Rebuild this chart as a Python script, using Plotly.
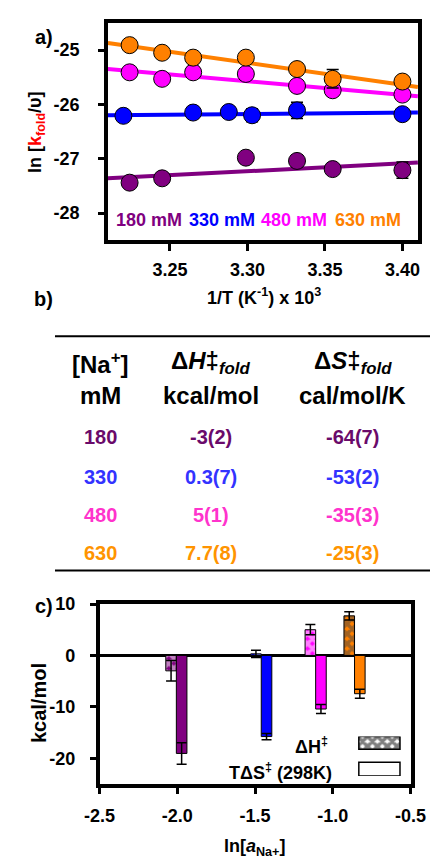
import plotly.graph_objects as go

W, H = 446, 861
FONT = "Liberation Sans, Arial, sans-serif"

# ---------------- Panel a data ----------------
inv_T_630 = [3.224, 3.245, 3.265, 3.299, 3.332, 3.355, 3.400]
lnk_630 = [-24.91, -25.05, -25.14, -25.14, -25.35, -25.53, -25.58]
err_630 = [0.05, 0.05, 0.05, 0.08, 0.05, 0.17, 0.05]

inv_T_480 = [3.224, 3.245, 3.265, 3.299, 3.332, 3.355, 3.400]
lnk_480 = [-25.41, -25.53, -25.41, -25.44, -25.66, -25.74, -25.82]
err_480 = [0.05, 0.05, 0.05, 0.05, 0.05, 0.10, 0.08]

inv_T_330 = [3.220, 3.265, 3.288, 3.303, 3.332, 3.400]
lnk_330 = [-26.21, -26.15, -26.14, -26.20, -26.11, -26.18]
err_330 = [0.05, 0.05, 0.08, 0.12, 0.15, 0.05]

inv_T_180 = [3.224, 3.245, 3.299, 3.332, 3.355, 3.400]
lnk_180 = [-27.44, -27.36, -26.98, -27.04, -27.19, -27.21]
err_180 = [0.05, 0.05, 0.05, 0.05, 0.05, 0.15]

fit_x = [3.21, 3.41]
fit_630 = [-24.87, -25.68]
fit_480 = [-25.35, -25.85]
fit_330 = [-26.20, -26.15]
fit_180 = [-27.36, -27.07]

conc_labels = ["180 mM", "330 mM", "480 mM", "630 mM"]
series_colors = ["#800080", "#0000FF", "#FF00FF", "#FF8000"]
table_colors = ["#6A0A6A", "#3333FF", "#FF33CC", "#FF9400"]

a_xticks = [3.25, 3.30, 3.35, 3.40]
a_yticks = [-28, -27, -26, -25]

# ---------------- Panel b data ----------------
na_conc = ["180", "330", "480", "630"]
dH_text = ["-3(2)", "0.3(7)", "5(1)", "7.7(8)"]
dS_text = ["-64(7)", "-53(2)", "-35(3)", "-25(3)"]

# ---------------- Panel c data ----------------
ln_a_na = [-2.006, -1.46, -1.11, -0.86]
dH_val = [-3, 0.3, 5, 7.7]
dH_err = [2, 0.7, 1, 0.8]
TdS_val = [-19.07, -15.79, -10.43, -7.45]
TdS_err = [2.09, 0.60, 0.89, 0.89]
c_xticks = [-2.5, -2.0, -1.5, -1.0, -0.5]
c_yticks = [-20, -10, 0, 10]


def px(x):
    return x / W


def py(y):
    return 1 - y / H


fig = go.Figure()

# fit lines then points (panel a)
for fy, col in zip([fit_180, fit_330, fit_480, fit_630], series_colors):
    fig.add_trace(go.Scatter(x=fit_x, y=fy, mode="lines",
                             line=dict(color=col, width=4),
                             xaxis="x", yaxis="y", hoverinfo="skip"))
for xs, ys, es, col in zip([inv_T_180, inv_T_330, inv_T_480, inv_T_630],
                           [lnk_180, lnk_330, lnk_480, lnk_630],
                           [err_180, err_330, err_480, err_630],
                           series_colors):
    fig.add_trace(go.Scatter(
        x=xs, y=ys, mode="markers",
        marker=dict(size=17, color=col, line=dict(color="black", width=1)),
        error_y=dict(type="data", array=es, color="black", thickness=1.5, width=6),
        xaxis="x", yaxis="y"))

# bars (panel c)
BAR_W = 0.068
HATCH = dict(shape="x", fgcolor="black", size=7, solidity=0.75, fillmode="overlay")
fig.add_trace(go.Bar(
    x=ln_a_na, y=dH_val, width=BAR_W, offset=-BAR_W,
    marker=dict(color=series_colors, line=dict(color="black", width=1),
                pattern=HATCH),
    error_y=dict(type="data", array=dH_err, color="black", thickness=1.5, width=5),
    xaxis="x2", yaxis="y2"))
fig.add_trace(go.Bar(
    x=ln_a_na, y=TdS_val, width=BAR_W, offset=0,
    marker=dict(color=series_colors, line=dict(color="black", width=1)),
    error_y=dict(type="data", array=TdS_err, color="black", thickness=1.5, width=5),
    xaxis="x2", yaxis="y2"))

# legend keys for panel c (decorative swatches on their own tiny axes)
fig.add_trace(go.Bar(
    y=[33.5], x=[1], width=[13], orientation="h", base=0,
    marker=dict(color="white", line=dict(color="black", width=1.5), pattern=HATCH),
    xaxis="x3", yaxis="y3", hoverinfo="skip"))
fig.add_trace(go.Bar(
    y=[7], x=[1], width=[14], orientation="h", base=0,
    marker=dict(color="white", line=dict(color="black", width=1.5)),
    xaxis="x3", yaxis="y3", hoverinfo="skip"))

axis_common = dict(showline=True, linewidth=3.5, linecolor="black", mirror=True,
                   showgrid=False, ticks="outside", tickwidth=3, tickcolor="black",
                   tickfont=dict(family=FONT, size=18, color="black", weight="bold"))

fig.update_layout(
    width=W, height=H, margin=dict(l=0, r=0, t=0, b=0),
    paper_bgcolor="white", plot_bgcolor="white", showlegend=False,
    barmode="overlay",
    xaxis=dict(domain=[px(99), px(433)], range=[3.21, 3.41],
               tickvals=a_xticks, ticktext=[f"{v:.2f}" for v in a_xticks],
               ticklen=7, ticklabelstandoff=3, anchor="y", **axis_common),
    yaxis=dict(domain=[py(233), py(13)], range=[-28.5, -24.5],
               tickvals=a_yticks, ticktext=[f"{v:d}" for v in a_yticks],
               ticklen=6, ticklabelstandoff=15, anchor="x", zeroline=False, **axis_common),
    xaxis2=dict(domain=[px(90), px(425)], range=[-2.5, -0.5],
                tickvals=c_xticks, ticktext=[f"{v:.1f}" for v in c_xticks],
                ticklen=6, ticklabelstandoff=7, anchor="y2", zeroline=False, **axis_common),
    yaxis2=dict(domain=[py(783), py(601)], range=[-25, 10],
                tickvals=c_yticks, ticktext=[f"{v:d}" for v in c_yticks],
                ticklen=6, ticklabelstandoff=11, anchor="x2",
                zeroline=True, zerolinecolor="black", zerolinewidth=3, **axis_common),
    xaxis3=dict(domain=[px(368), px(415)], range=[-0.03, 1.03], visible=False,
                anchor="y3", fixedrange=True),
    yaxis3=dict(domain=[py(775), py(735)], range=[0, 40], visible=False,
                anchor="x3", fixedrange=True),
)

ann = []


def add_text(text, x, y, size, color="black", xanchor="center", angle=0):
    ann.append(dict(text=text, x=px(x), y=py(y), xref="paper", yref="paper",
                    xanchor=xanchor, yanchor="middle", showarrow=False,
                    textangle=angle,
                    font=dict(family=FONT, size=size, color=color)))


# panel a texts
add_text("<b>a)</b>", 30, 27, 20)
add_text("<b>ln [<span style='color:#FF0000'>k<sub>fold</sub></span>/υ]</b>", 22, 123, 18, angle=-90)
add_text("<b>1/T (K<sup>-1</sup>) x 10<sup>3</sup></b>", 267, 290, 18)
for lab, col, xc in zip(conc_labels, series_colors, [143, 222, 300, 379]):
    add_text(f"<b>{lab}</b>", xc, 212, 18, color=col)

# panel b table
add_text("<b>b)</b>", 30, 292, 20)
add_text("<b>[Na<sup>+</sup>]</b>", 91, 357, 24)
add_text("<b>Δ<i>H</i>‡<sub><i>fold</i></sub></b>", 210, 357, 24)
add_text("<b>Δ<i>S</i>‡<sub><i>fold</i></sub></b>", 363, 357, 24)
add_text("<b>mM</b>", 91, 390, 24)
add_text("<b>kcal/mol</b>", 210, 390, 24)
add_text("<b>cal/mol/K</b>", 363, 390, 24)
for i, yrow in enumerate([432, 472, 511, 549]):
    col = table_colors[i]
    add_text(f"<b>{na_conc[i]}</b>", 91, yrow, 20, color=col)
    add_text(f"<b>{dH_text[i]}</b>", 210, yrow, 20, color=col)
    add_text(f"<b>{dS_text[i]}</b>", 363, yrow, 20, color=col)

# panel c texts
add_text("<b>c)</b>", 30, 603, 20)
add_text("<b>kcal/mol</b>", 25, 701, 20, angle=-90)
add_text("<b>ln[<i>a</i><sub>Na+</sub>]</b>", 257, 847, 18)
add_text("<b>ΔH<sup>‡</sup></b>", 338, 744, 18, xanchor="right")
add_text("<b>TΔS<sup>‡</sup> (298K)</b>", 343, 770, 18, xanchor="right")

fig.update_layout(annotations=ann)

shapes = []
for yline in [330, 567]:
    shapes.append(dict(type="line", xref="paper", yref="paper",
                       x0=px(42), x1=px(446), y0=py(yline), y1=py(yline),
                       line=dict(color="black", width=2)))
fig.update_layout(shapes=shapes)

fig.write_html("out.html")
